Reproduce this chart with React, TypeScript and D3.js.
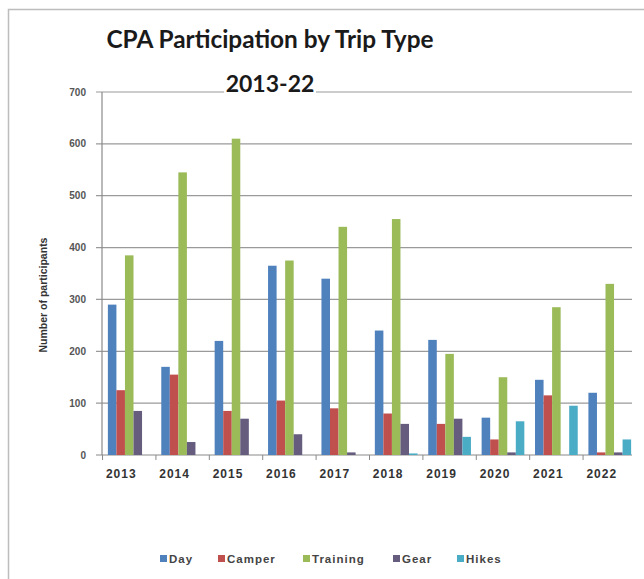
import React from "react";
import * as d3 from "d3";

const years = ["2013", "2014", "2015", "2016", "2017", "2018", "2019", "2020", "2021", "2022"];
const seriesNames = ["Day", "Camper", "Training", "Gear", "Hikes"];
const dayValues = [290, 170, 220, 365, 340, 240, 222, 72, 145, 120];
const camperValues = [125, 155, 85, 105, 90, 80, 60, 30, 115, 5];
const trainingValues = [385, 545, 610, 375, 440, 455, 195, 150, 285, 330];
const gearValues = [85, 25, 70, 40, 5, 60, 70, 5, 0, 5];
const hikesValues = [0, 0, 0, 0, 0, 3, 35, 65, 95, 30];
const yTicks = [0, 100, 200, 300, 400, 500, 600, 700];
const colors = ["#4F81BD", "#C0504D", "#9BBB59", "#655C7E", "#4BACC6"];

const allSeries = [dayValues, camperValues, trainingValues, gearValues, hikesValues];

export default function App() {
  const W = 644, H = 579;
  const plotLeft = 102, plotRight = 632, plotTop = 92, plotBottom = 455;

  const x0 = d3.scaleBand<string>().domain(years).range([plotLeft, 637]).paddingInner(0.2).paddingOuter(0.11);
  const x1 = d3.scaleBand<string>().domain(seriesNames).range([0, x0.bandwidth()]).padding(0);
  const y = d3.scaleLinear().domain([0, 700]).range([plotBottom, plotTop]);

  const font = "'Liberation Sans', Arial, sans-serif";

  return (
    <svg width={W} height={H} style={{ position: "absolute", left: 0, top: 0, background: "#fff" }}>
      <rect x={8.5} y={9.5} width={700} height={700} fill="#fff" stroke="#bdbdbd" strokeWidth={1.5} />
      {/* gridlines */}
      {yTicks.map((t) => (
        <g key={t}>
          <line x1={plotLeft - 6} x2={plotRight} y1={y(t)} y2={y(t)} stroke={t === 0 ? "#8a8a8a" : "#9a9a9a"} strokeWidth={1.2} />
          <text x={86} y={y(t) + 3.5} textAnchor="end" fontFamily={font} fontSize={10} fontWeight="bold" fill="#555">{t}</text>
        </g>
      ))}
      <line x1={plotLeft} x2={plotLeft} y1={plotTop} y2={plotBottom} stroke="#8a8a8a" strokeWidth={1.2} />
      {/* x ticks */}
      {years.map((yr) => {
        const edge = (x0(yr) as number) - (x0.step() - x0.bandwidth()) / 2;
        return <line key={"t" + yr} x1={edge} x2={edge} y1={plotBottom} y2={plotBottom + 5} stroke="#8a8a8a" />;
      })}
      {/* bars */}
      {years.map((yr, i) => (
        <g key={yr} transform={`translate(${x0(yr)},0)`}>
          {seriesNames.map((s, k) => {
            const v = allSeries[k][i];
            return (
              <rect key={s} x={x1(s)} y={y(v)} width={x1.bandwidth()} height={plotBottom - y(v)} fill={colors[k]} />
            );
          })}
        </g>
      ))}
      {/* x labels */}
      {years.map((yr) => (
        <text key={"l" + yr} x={(x0(yr) as number) + x0.bandwidth() / 2 - 8} y={478} textAnchor="middle" fontFamily={font} fontSize={12} fontWeight="bold" fill="#333" letterSpacing={1}>{yr}</text>
      ))}
      {/* title */}
      <text x={270} y={48} textAnchor="middle" fontFamily="Lato, sans-serif" fontWeight="bold" fontSize={24.4} fill="#1a1a1a">CPA Participation by Trip Type</text>
      <rect x={224} y={72} width={92} height={24} fill="#fff" />
      <text x={270} y={92} textAnchor="middle" fontFamily="Lato, sans-serif" fontWeight="bold" fontSize={23} fill="#1a1a1a">2013-22</text>
      {/* y axis title */}
      <text transform={`translate(47,295) rotate(-90)`} textAnchor="middle" fontFamily={font} fontSize={10.5} fontWeight="bold" fill="#333">Number of participants</text>
      {/* legend */}
      {(() => {
        const xs = [160, 218, 303, 393, 457];
        return seriesNames.map((s, k) => (
          <g key={"lg" + s} transform={`translate(${xs[k]},559)`}>
            <rect x={0} y={-4} width={7} height={7} fill={colors[k]} />
            <text x={9} y={4} fontFamily={font} fontSize={11.5} fontWeight="bold" fill="#444" letterSpacing={1}>{s}</text>
          </g>
        ));
      })()}
    </svg>
  );
}
